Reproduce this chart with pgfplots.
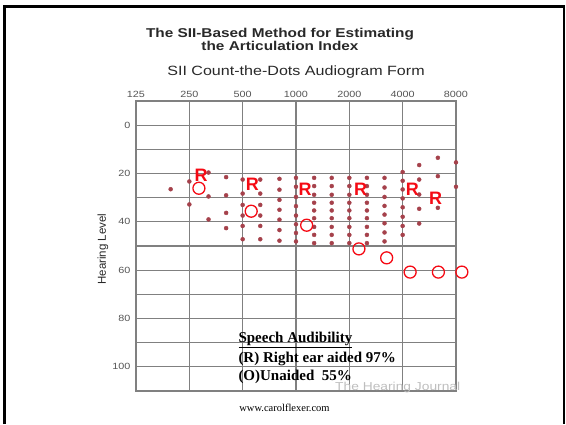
\documentclass[border=0pt]{standalone}
\usepackage{fontspec}
\setmainfont{Liberation Serif}
\newfontfamily\widesans[FakeStretch=1.2]{Liberation Sans}
\newfontfamily\plainsans{Liberation Sans}
\usepackage{pgfplots}
\pgfplotsset{compat=1.18}
\definecolor{dotred}{RGB}{165,65,75}
\definecolor{gridgray}{RGB}{128,128,128}
\definecolor{labgray}{RGB}{85,85,85}
\definecolor{titlegray}{RGB}{40,40,40}
\definecolor{markred}{RGB}{245,10,20}
\definecolor{hjgray}{RGB}{190,190,190}

\pgfplotstableread{
x y
0.65 26.5
1.00 23.3
1.00 32.8
1.36 19.6
1.36 29.5
1.36 39.0
1.69 21.5
1.69 29.0
1.69 36.3
1.69 42.6
2.00 22.5
2.00 28.3
2.00 33.0
2.00 37.4
2.00 41.7
2.00 47.2
2.33 22.5
2.33 28.3
2.33 33.0
2.33 37.4
2.33 41.7
2.33 47.2
2.69 22.2
2.69 26.7
2.69 30.9
2.69 35.0
2.69 39.1
2.69 43.4
2.69 47.8
3.00 21.8
3.00 25.5
3.00 29.7
3.00 33.5
3.00 37.4
3.00 41.0
3.00 44.6
3.00 48.1
3.34 21.8
3.34 25.2
3.34 28.8
3.34 32.1
3.34 35.3
3.34 38.5
3.34 42.1
3.34 45.4
3.34 48.8
3.67 21.8
3.67 25.2
3.67 28.8
3.67 32.1
3.67 35.3
3.67 38.5
3.67 42.1
3.67 45.4
3.67 48.8
4.00 21.8
4.00 25.2
4.00 28.8
4.00 32.1
4.00 35.3
4.00 38.5
4.00 42.1
4.00 45.4
4.00 48.8
4.33 21.8
4.33 25.2
4.33 28.8
4.33 32.1
4.33 35.3
4.33 38.5
4.33 42.1
4.33 45.4
4.33 48.8
4.66 21.8
4.66 25.8
4.66 29.7
4.66 33.4
4.66 37.0
4.66 40.6
4.66 44.4
4.66 48.1
5.00 19.4
5.00 23.0
5.00 26.6
5.00 30.3
5.00 34.0
5.00 37.9
5.00 41.7
5.00 45.4
5.31 16.5
5.31 22.5
5.31 28.7
5.31 34.6
5.31 40.7
5.66 13.5
5.66 21.1
5.66 34.2
6.00 15.4
6.00 25.5
}\dotstable

\begin{document}
\begin{tikzpicture}[x=1pt,y=1pt]
\useasboundingbox (0,0) rectangle (566,424);
% slide frame
\draw[line width=3pt, black] (4.5,0) -- (4.5,417.5) -- (563.5,417.5);
\draw[line width=2pt, black] (563.5,418.5) -- (563.5,0);
\begin{axis}[
  at={(136pt,33pt)}, anchor=south west,
  scale only axis, width=320pt, height=290pt,
  xmin=0, xmax=6, ymin=-10, ymax=110, y dir=reverse,
  xtick={0,...,6}, xticklabels={125,250,500,1000,2000,4000,8000},
  xticklabel pos=upper,
  ytick={0,20,...,100}, yticklabels={0,20,40,60,80,100},
  minor ytick={-10,10,...,110},
  grid=both,
  major grid style={gridgray, line width=1.3pt},
  minor grid style={gridgray, line width=1.3pt},
  axis line style={gridgray, line width=1.3pt},
  major tick length=0pt, minor tick length=0pt,
  tick style={draw=none},
  ticklabel style={font=\widesans\fontsize{9}{10}\selectfont, text=labgray},
  yticklabel style={xshift=-2pt},
  clip=false,
]
\addplot[only marks, mark=*, mark size=2pt, dotred, mark options={draw=dotred, fill=dotred}] table {\dotstable};
\addplot[only marks, mark=o, mark size=6pt, markred, mark options={line width=1.3pt}] coordinates {
(1.18,26.1) (2.16,35.6) (3.20,41.4) (4.18,51.2) (4.70,54.9) (5.14,60.8) (5.67,60.8) (6.11,60.8)};
\addplot[only marks, markred, mark=text,
  text mark={\color{markred}\plainsans\bfseries\fontsize{18}{18}\selectfont R}] coordinates {
(1.22,20.7) (2.18,24.4) (3.17,26.5) (4.21,26.5) (5.18,26.5) (5.62,30.2)};
\end{axis}
% titles
\node[anchor=base, text=titlegray, font=\widesans\bfseries\fontsize{12.8}{14}\selectfont, inner sep=0pt] at (280,386.7) {The SII-Based Method for Estimating};
\node[anchor=base, text=titlegray, font=\widesans\bfseries\fontsize{12.8}{14}\selectfont, inner sep=0pt] at (280,373) {the Articulation Index};
\node[anchor=base, text=titlegray, font=\widesans\fontsize{13.4}{15}\selectfont, inner sep=0pt] at (296,348.7) {SII Count-the-Dots Audiogram Form};
\node[rotate=90, text=titlegray, font=\plainsans\fontsize{11.5}{12}\selectfont, inner sep=0pt] at (103,175) {Hearing Level};
% annotation
\node[anchor=base west, inner sep=0pt, font=\bfseries\fontsize{15}{18}\selectfont] at (238.3,81.7) {\underline{Speech Audibility}};
\node[anchor=base west, inner sep=0pt, font=\bfseries\fontsize{15}{18}\selectfont] at (238.3,61.7) {(R) Right ear aided 97\%};
\node[anchor=base west, inner sep=0pt, font=\bfseries\fontsize{15}{18}\selectfont] at (238.3,44) {(O)Unaided\ \ 55\%};
\node[anchor=base west, inner sep=0pt, text=hjgray, font=\widesans\fontsize{11.5}{12}\selectfont] at (335,34) {The Hearing Journal};
\node[anchor=base, inner sep=0pt, font=\fontsize{10.5}{12}\selectfont] at (284.5,12.5) {www.carolflexer.com};
\end{tikzpicture}
\end{document}
